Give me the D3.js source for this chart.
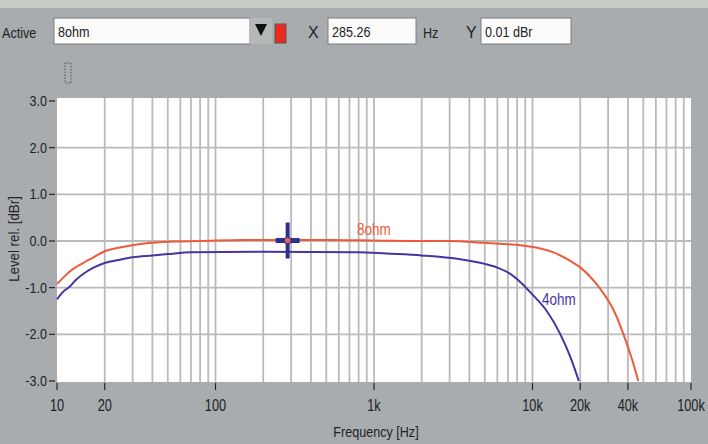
<!DOCTYPE html>
<html>
<head>
<meta charset="utf-8">
<script src="https://cdn.jsdelivr.net/npm/d3@7"></script>
<style>
  body { margin: 0; background: #a8acae; }
  svg { display: block; }
  text { font-family: "Liberation Sans Narrow", "Arial Narrow", "Liberation Sans", sans-serif; }
</style>
</head>
<body>
<div id="chart"></div>
<script>
// data
const freq8 = [10, 11, 12, 13, 15, 17, 20, 25, 30, 40, 55, 80, 150, 500, 1000, 2000, 3000, 5000, 7000, 8400, 11200, 13700, 17400, 20100, 24500, 28300, 32700, 37500, 42400, 46500]
const level8 = [-0.92, -0.78, -0.66, -0.57, -0.45, -0.35, -0.22, -0.14, -0.09, -0.04, -0.01, 0.0, 0.02, 0.02, 0.01, 0.0, 0.0, -0.04, -0.07, -0.09, -0.16, -0.25, -0.43, -0.57, -0.86, -1.14, -1.5, -2.0, -2.53, -3.0]
const freq4 = [10, 11, 12, 13, 15, 17, 20, 25, 30, 40, 50, 70, 200, 800, 1200, 2000, 3500, 5000, 6000, 7200, 8500, 10000, 12300, 15000, 17400, 19600]
const level4 = [-1.25, -1.08, -0.98, -0.85, -0.68, -0.57, -0.47, -0.40, -0.35, -0.31, -0.28, -0.24, -0.23, -0.24, -0.27, -0.31, -0.39, -0.49, -0.57, -0.7, -0.9, -1.15, -1.5, -2.0, -2.5, -3.0]
const yTicks = [3, 2, 1, 0, -1, -2, -3]
const xTicks = [10, 20, 100, 1000, 10000, 20000, 40000, 100000]
const xTickLabels = ["10", "20", "100", "1k", "10k", "20k", "40k", "100k"]
const cursor = {f: 285.26, v: 0.01}

const W = 708, H = 444
const margin = {top: 101, right: 17, bottom: 63, left: 57}

const svg = d3.select("#chart").append("svg")
  .attr("width", W).attr("height", H)

// top light strip
svg.append("rect").attr("x", 0).attr("y", 0).attr("width", W).attr("height", 8).attr("fill", "#c9cdc8")

const x = d3.scaleLog().domain([10, 100000]).range([margin.left, W - margin.right])
const y = d3.scaleLinear().domain([-3, 3]).range([H - margin.bottom, margin.top])

// plot area
svg.append("rect")
  .attr("x", x(10)).attr("y", y(3) - 3)
  .attr("width", x(100000) - x(10)).attr("height", y(-3) - y(3) + 4)
  .attr("fill", "#ffffff")

// grid
const minor = []
for (let d = 10; d < 100000; d *= 10) for (let k = 1; k <= 9; k++) if (d * k > 10) minor.push(d * k)
svg.append("g").selectAll("line").data(minor).join("line")
  .attr("x1", d => x(d)).attr("x2", d => x(d))
  .attr("y1", y(3) - 3).attr("y2", y(-3) + 1)
  .attr("stroke", "#bababa").attr("stroke-width", 1.8)
svg.append("g").selectAll("line").data(yTicks.slice(1, -1)).join("line")
  .attr("x1", x(10)).attr("x2", x(100000))
  .attr("y1", d => y(d)).attr("y2", d => y(d))
  .attr("stroke", "#bababa").attr("stroke-width", 1.8)

// y axis
const yAxis = svg.append("g")
yAxis.selectAll("line").data(yTicks).join("line")
  .attr("x1", 49).attr("x2", 55).attr("y1", d => y(d)).attr("y2", d => y(d))
  .attr("stroke", "#222").attr("stroke-width", 1.2)
yAxis.selectAll("text").data(yTicks).join("text")
  .attr("transform", d => `translate(47,${y(d) + 5}) scale(0.9,1.1)`)
  .attr("text-anchor", "end").attr("font-size", 14).attr("fill", "#222")
  .text(d => (d < 0 ? "-" : "") + Math.abs(d).toFixed(1))

// x axis
const xAxis = svg.append("g")
xAxis.selectAll("line").data(xTicks).join("line")
  .attr("x1", d => x(d)).attr("x2", d => x(d)).attr("y1", y(-3) + 2).attr("y2", y(-3) + 9)
  .attr("stroke", "#222").attr("stroke-width", 1.2)
xAxis.selectAll("text").data(xTicks).join("text")
  .attr("transform", d => `translate(${x(d)},411) scale(0.85,1.15)`)
  .attr("text-anchor", "middle").attr("font-size", 15).attr("fill", "#222")
  .text((d, i) => xTickLabels[i])

svg.append("text").attr("transform", "translate(376,437) scale(0.9,1.1)").attr("text-anchor", "middle")
  .attr("font-size", 14).attr("fill", "#222").text("Frequency [Hz]")
svg.append("text").attr("transform", "translate(19,239) rotate(-90) scale(0.95,1.1)").attr("text-anchor", "middle")
  .attr("font-size", 14).attr("fill", "#222").text("Level rel. [dBr]")

// curves
const line = d3.line().x(d => x(d[0])).y(d => y(d[1])).curve(d3.curveMonotoneX)
svg.append("path").datum(d3.zip(freq4, level4)).attr("d", line)
  .attr("fill", "none").attr("stroke", "#4535a0").attr("stroke-width", 2)
svg.append("path").datum(d3.zip(freq8, level8)).attr("d", line)
  .attr("fill", "none").attr("stroke", "#ee5a3a").attr("stroke-width", 2)

svg.append("text").attr("transform", "translate(357,235) scale(0.9,1.1)").attr("font-size", 15).attr("fill", "#ee5a3a").text("8ohm")
svg.append("text").attr("transform", "translate(542,305) scale(0.9,1.1)").attr("font-size", 15).attr("fill", "#4535a0").text("4ohm")

// cursor
const cx = x(cursor.f), cy = y(cursor.v)
const cur = svg.append("g").attr("fill", "#2e2e8c")
cur.append("rect").attr("x", cx - 2).attr("y", cy - 18).attr("width", 4).attr("height", 36)
cur.append("rect").attr("x", cx - 12).attr("y", cy - 2.5).attr("width", 24).attr("height", 5)
cur.append("circle").attr("cx", cx).attr("cy", cy).attr("r", 3.5).attr("fill", "#e06060").attr("stroke", "#2e2e8c").attr("stroke-width", 1)

// toolbar
const tb = svg.append("g").attr("font-size", 14).attr("fill", "#222")
tb.append("text").attr("transform", "translate(2,38) scale(0.9,1.1)").text("Active")
const box = (x0, w) => {
  tb.append("rect").attr("x", x0).attr("y", 18).attr("width", w).attr("height", 26)
    .attr("fill", "#fbfbfb").attr("stroke", "#7c7f80").attr("stroke-width", 1)
}
box(54, 196)
tb.append("rect").attr("x", 250).attr("y", 18).attr("width", 22).attr("height", 26).attr("fill", "#b5b8b9")
tb.append("path").attr("d", "M255,24 L267,24 L261,36 Z").attr("fill", "#111")
tb.append("rect").attr("x", 275).attr("y", 24).attr("width", 11).attr("height", 19).attr("fill", "#ee2a1c").attr("stroke", "#555")
tb.append("text").attr("x", 308).attr("y", 38).attr("font-size", 16).text("X")
box(328, 88)
tb.append("text").attr("transform", "translate(423,38) scale(0.9,1.1)").text("Hz")
tb.append("text").attr("x", 466).attr("y", 38).attr("font-size", 16).text("Y")
box(481, 90)
tb.append("text").attr("transform", "translate(58,37) scale(0.9,1.1)").text("8ohm")
tb.append("text").attr("transform", "translate(332,37) scale(0.9,1.1)").text(cursor.f.toFixed(2))
tb.append("text").attr("transform", "translate(485,37) scale(0.9,1.1)").text(cursor.v.toFixed(2) + " dBr")

// little dotted icon
svg.append("rect").attr("x", 65).attr("y", 63).attr("width", 6).attr("height", 20)
  .attr("fill", "none").attr("stroke", "#555").attr("stroke-dasharray", "1.5,1.5")
</script>
</body>
</html>
